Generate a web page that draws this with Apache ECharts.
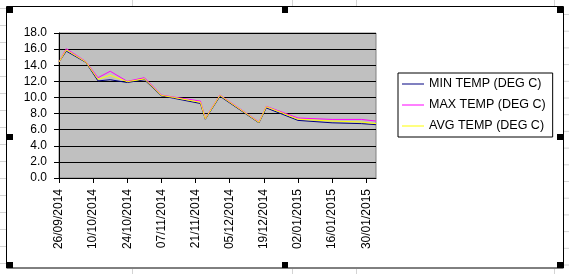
<!DOCTYPE html>
<html lang="en">
<head>
<meta charset="UTF-8">
<title>Temperatures</title>
<script src="https://cdn.jsdelivr.net/npm/echarts@6/dist/echarts.min.js"></script>
<style>
  html, body { margin: 0; padding: 0; background: #fff; }
  #main { width: 569px; height: 274px; }
</style>
</head>
<body>
<div id="main"></div>
<script>
// readings (dd/mm/yyyy)
var dates = ['26/09/2014', '29/09/2014', '07/10/2014', '12/10/2014', '17/10/2014', '24/10/2014',
             '31/10/2014', '07/11/2014', '12/11/2014', '23/11/2014', '25/11/2014', '01/12/2014',
             '17/12/2014', '20/12/2014', '02/01/2015', '16/01/2015', '28/01/2015', '03/02/2015'];
var minTemp = [14.4, 15.75, 14.35, 12.05, 12.2, 11.85, 12.2, 10.2, 9.9, 9.25, 7.3, 10.15,
               6.85, 8.7, 7.15, 6.85, 6.75, 6.62];
var maxTemp = [14.4, 16.05, 14.45, 12.45, 13.25, 12.0, 12.45, 10.3, 10.05, 9.55, 7.4, 10.3,
               6.95, 8.9, 7.45, 7.27, 7.27, 7.07];
var avgTemp = [14.4, 15.9, 14.4, 12.25, 12.75, 11.95, 12.3, 10.25, 10.0, 9.4, 7.35, 10.25,
               6.9, 8.85, 7.3, 7.07, 6.95, 6.75];
var seriesNames = ['MIN TEMP (DEG C)', 'MAX TEMP (DEG C)', 'AVG TEMP (DEG C)'];
var axisStart = '26/09/2014';
var axisEnd = '03/02/2015';
var yTicks = [0, 18, 2]; // min, max, step

var DAY = 86400000;
function parseDay(s) {
    var p = s.split('/');
    return Date.UTC(+p[2], +p[1] - 1, +p[0]) / DAY;
}
var day0 = parseDay(axisStart);
function offset(s) { return parseDay(s) - day0; }
function pad(n) { return (n < 10 ? '0' : '') + n; }
function dayLabel(v) {
    var d = new Date((day0 + v) * DAY);
    return pad(d.getUTCDate()) + '/' + pad(d.getUTCMonth() + 1) + '/' + d.getUTCFullYear();
}
function pairs(vals) {
    return dates.map(function (d, i) { return [offset(d), vals[i]]; });
}

var font = 'Liberation Sans, Arial, sans-serif';

// spreadsheet cell lines + chart frame + selection handles
var gfx = [];
function gline(x1, y1, x2, y2, c) {
    gfx.push({ type: 'line', silent: true, z: 0,
        shape: { x1: x1, y1: y1, x2: x2, y2: y2 },
        style: { stroke: c || '#d4d4d4', lineWidth: 1 } });
}
[132.5, 292.5, 356.5, 554.5].forEach(function (x) {
    gline(x, 0, x, 6); gline(x, 269, x, 274);
});
for (var k = 0; k < 16; k++) {
    gline(0, 8.5 + k * 17, 6, 8.5 + k * 17);
    gline(564, 14.5 + k * 16.7, 569, 14.5 + k * 16.7);
}
gfx.push({ type: 'rect', silent: true, z: 1,
    shape: { x: 6.5, y: 6.5, width: 557, height: 261.5 },
    style: { fill: 'none', stroke: '#000', lineWidth: 1 } });
[[7, 7], [282, 7], [557, 7], [7, 134], [557, 134], [7, 262], [282, 262], [557, 262]].forEach(function (p) {
    gfx.push({ type: 'rect', silent: true, z: 200,
        shape: { x: p[0], y: p[1], width: 6, height: 6 }, style: { fill: '#000' } });
});

var option = {
    animation: false,
    backgroundColor: '#fff',
    textStyle: { fontFamily: font, color: '#000' },
    graphic: gfx,
    grid: {
        left: 59, top: 33, width: 317, height: 145,
        show: true, backgroundColor: '#c0c0c0', borderColor: '#808080', borderWidth: 1
    },
    legend: {
        orient: 'vertical',
        left: 398, top: 73,
        data: seriesNames,
        icon: 'rect',
        itemWidth: 22, itemHeight: 1, itemGap: 7,
        padding: [4, 7, 4, 4],
        borderColor: '#000', borderWidth: 1, borderRadius: 0,
        textStyle: { fontFamily: font, fontSize: 12.5, lineHeight: 14, color: '#000' }
    },
    xAxis: {
        type: 'value',
        min: 0, max: offset(axisEnd), interval: 14,
        axisLine: { show: true, lineStyle: { color: '#000', width: 1 } },
        axisTick: { show: true, inside: false, length: 5, lineStyle: { color: '#000' } },
        splitLine: { show: false },
        axisLabel: {
            rotate: 90, margin: 11, fontSize: 12, fontFamily: font, color: '#000',
            showMaxLabel: false, formatter: dayLabel
        }
    },
    yAxis: {
        type: 'value',
        min: yTicks[0], max: yTicks[1], interval: yTicks[2],
        axisLine: { show: true, lineStyle: { color: '#000', width: 1 } },
        axisTick: { show: true, inside: false, length: 5, lineStyle: { color: '#000' } },
        splitLine: { show: true, lineStyle: { color: '#000', width: 1 } },
        axisLabel: {
            margin: 12, fontSize: 12, fontFamily: font, color: '#000',
            formatter: function (v) { return v.toFixed(1); }
        }
    },
    series: [
        { name: seriesNames[0], type: 'line', data: pairs(minTemp), color: '#000080',
          showSymbol: false, lineStyle: { width: 1, color: '#000080' } },
        { name: seriesNames[1], type: 'line', data: pairs(maxTemp), color: '#ff00ff',
          showSymbol: false, lineStyle: { width: 1, color: '#ff00ff' } },
        { name: seriesNames[2], type: 'line', data: pairs(avgTemp), color: '#ffff00',
          showSymbol: false, lineStyle: { width: 1, color: '#ffff00' } }
    ]
};

var myChart = echarts.init(document.getElementById('main'), null, { renderer: 'canvas' });
myChart.setOption(option);
</script>
</body>
</html>
